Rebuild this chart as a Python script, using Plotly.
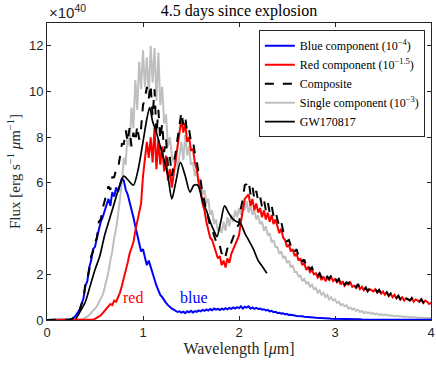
import plotly.graph_objects as go

# wavelength grid (micron) for the model spectra, 0 .. 4 in steps of 0.02
wavelength = [round(i * 0.02, 2) for i in range(201)]

blue_flux = [
    0, 0, 0, 0, 0, 0, 0, 0, 0, 0,
    0, 0.01, 0.02, 0.05, 0.1, 0.2, 0.3, 0.45, 0.7, 0.95,
    1.5, 1.7, 2.3, 2.6, 3.1, 3.2, 3.6, 4.0, 4.3, 4.5,
    4.8, 5.1, 5.3, 5.0, 5.6, 5.4, 5.8, 5.6, 5.9, 6.2,
    6.1, 5.7, 5.5, 5.2, 4.8, 4.5, 4.1, 3.7, 3.3, 3.0,
    3.1, 2.7, 2.4, 2.6, 2.3, 2.0, 1.7, 1.5, 1.3, 1.1,
    1.0, 0.85, 0.75, 0.65, 0.55, 0.5, 0.45, 0.4, 0.35, 0.38,
    0.32, 0.36, 0.3, 0.38, 0.34, 0.4, 0.33, 0.39, 0.36, 0.42,
    0.38, 0.44, 0.4, 0.46, 0.41, 0.48, 0.43, 0.5, 0.45, 0.49,
    0.44, 0.5, 0.46, 0.52, 0.47, 0.53, 0.49, 0.55, 0.5, 0.56,
    0.52, 0.6, 0.5, 0.58, 0.54, 0.6, 0.5, 0.55, 0.49, 0.53,
    0.48, 0.5, 0.45, 0.47, 0.42, 0.44, 0.38, 0.4, 0.34, 0.36,
    0.31, 0.32, 0.28, 0.29, 0.25, 0.26, 0.22, 0.23, 0.2, 0.2,
    0.18, 0.18, 0.16, 0.16, 0.14, 0.14, 0.13, 0.12, 0.11, 0.11,
    0.1, 0.1, 0.09, 0.09, 0.08, 0.08, 0.07, 0.07, 0.06, 0.06,
    0.06, 0.05, 0.05, 0.05, 0.04, 0.04, 0.04, 0.04, 0.03, 0.03,
    0.03, 0.03, 0.03, 0.03, 0.02, 0.02, 0.02, 0.02, 0.02, 0.02,
    0.02, 0.02, 0.02, 0.02, 0.02, 0.01, 0.01, 0.01, 0.01, 0.01,
    0.01, 0.01, 0.01, 0.01, 0.01, 0.01, 0.01, 0.01, 0.01, 0.01,
    0.01, 0.01, 0.01, 0.01, 0.01, 0.01, 0.01, 0.01, 0.01, 0.01,
    0.01,
]

red_flux = [
    0, 0, 0, 0, 0, 0, 0, 0, 0, 0,
    0, 0, 0, 0, 0, 0, 0, 0, 0, 0,
    0, 0, 0, 0, 0.02, 0.05, 0.1, 0.15, 0.2, 0.3,
    0.4, 0.5, 0.55, 0.7, 0.65, 0.85, 0.8, 1.0, 1.2, 1.5,
    1.8, 2.2, 2.5, 2.9, 3.2, 3.4, 3.9, 4.3, 4.7, 5.1,
    6.3, 7.0, 7.8, 7.1, 8.0, 6.9, 8.4, 6.6, 7.9, 6.8,
    7.6, 6.5, 7.2, 6.1, 6.6, 5.8, 6.4, 6.9, 7.6, 8.1,
    8.8, 8.2, 8.6, 7.8, 8.0, 7.4, 7.5, 6.9, 6.6, 6.0,
    5.7, 5.1, 4.8, 4.3, 4.0, 3.6, 3.5, 3.2, 3.0, 2.7,
    2.8, 2.4, 2.6, 2.3, 2.7, 2.5, 2.9, 3.1, 3.3, 3.5,
    3.7, 4.3, 4.8, 5.3, 5.4, 5.5, 5.0, 5.3, 4.8, 5.1,
    4.7, 4.9, 4.5, 4.8, 4.4, 4.7, 4.3, 4.6, 4.2, 4.4,
    4.1, 3.8, 4.0, 3.6, 3.5, 3.2, 3.3, 3.0, 3.1, 2.8,
    2.9, 2.6, 2.7, 2.4, 2.5, 2.2, 2.3, 2.1, 2.2, 2.0,
    2.05, 1.85, 1.95, 1.75, 1.9, 1.7, 1.85, 1.75, 1.9, 1.7,
    1.8, 1.65, 1.75, 1.55, 1.7, 1.5, 1.6, 1.55, 1.65, 1.45,
    1.5, 1.4, 1.55, 1.35, 1.45, 1.3, 1.4, 1.25, 1.35, 1.3,
    1.25, 1.35, 1.2, 1.3, 1.15, 1.25, 1.1, 1.2, 1.05, 1.15,
    1.0, 1.1, 0.95, 1.05, 0.9, 1.0, 0.85, 0.95, 0.9, 0.85,
    0.95, 0.8, 0.9, 0.85, 0.8, 0.9, 0.75, 0.85, 0.8, 0.7,
    0.75,
]

composite_flux = [
    0, 0, 0, 0, 0, 0, 0, 0, 0, 0,
    0, 0.01, 0.02, 0.05, 0.1, 0.2, 0.3, 0.45, 0.7, 0.95,
    1.6, 1.8, 2.2, 2.8, 3.0, 3.4, 3.6, 4.3, 4.4, 4.9,
    5.2, 5.6, 5.85, 5.7, 6.25, 6.25, 6.6, 6.6, 7.1, 7.7,
    7.7, 8.3, 7.8, 8.4, 7.6, 8.2, 7.8, 8.5, 7.9, 8.4,
    9.4, 9.7, 10.2, 9.7, 10.3, 8.9, 10.1, 8.1, 9.2, 7.9,
    8.6, 7.35, 7.95, 6.75, 7.15, 6.3, 6.85, 7.3, 7.95, 8.5,
    9.1, 8.55, 8.9, 8.2, 8.35, 7.8, 7.85, 7.3, 6.95, 6.4,
    6.1, 5.55, 5.2, 4.75, 4.4, 4.1, 3.95, 3.7, 3.45, 3.2,
    3.25, 2.9, 3.05, 2.8, 3.15, 3.05, 3.4, 3.65, 3.8, 4.06,
    4.2, 4.9, 5.3, 5.9, 5.95, 6.1, 5.5, 5.85, 5.3, 5.65,
    5.2, 5.4, 4.95, 5.25, 4.8, 5.15, 4.7, 5.0, 4.55, 4.75,
    4.4, 4.1, 4.3, 3.9, 3.75, 3.45, 3.5, 3.25, 3.3, 3.0,
    3.1, 2.8, 2.85, 2.55, 2.65, 2.35, 2.45, 2.2, 2.3, 2.1,
    2.15, 1.95, 2.05, 1.85, 2.0, 1.8, 1.9, 1.8, 1.95, 1.75,
    1.85, 1.7, 1.8, 1.6, 1.75, 1.55, 1.65, 1.6, 1.7, 1.5,
    1.53, 1.43, 1.58, 1.38, 1.47, 1.32, 1.42, 1.27, 1.37, 1.32,
    1.27, 1.37, 1.22, 1.32, 1.17, 1.26, 1.11, 1.21, 1.06, 1.16,
    1.01, 1.11, 0.96, 1.06, 0.91, 1.01, 0.86, 0.96, 0.91, 0.86,
    0.96, 0.81, 0.91, 0.86, 0.81, 0.91, 0.76, 0.86, 0.81, 0.71,
    0.76,
]

single_flux = [
    0, 0, 0, 0, 0, 0, 0, 0, 0, 0,
    0, 0, 0, 0, 0, 0, 0, 0.01, 0.03, 0.06,
    0.1, 0.15, 0.22, 0.3, 0.4, 0.5, 0.6, 0.75, 0.9, 1.1,
    1.4, 1.7, 2.1, 2.6, 3.0, 3.6, 4.0, 4.6, 5.2, 6.0,
    7.1, 6.8, 8.3, 7.6, 9.3, 8.4, 10.5, 9.2, 11.3, 10.1,
    11.8, 10.2, 11.5, 9.8, 12.0, 10.4, 11.9, 9.6, 11.7, 9.4,
    10.2, 8.6, 9.0, 7.6, 8.0, 7.2, 6.9, 7.4, 6.6, 7.3,
    7.8, 7.0, 8.1, 7.2, 7.6, 6.8, 6.9, 6.3, 6.6, 6.0,
    6.2, 5.5, 5.7, 5.1, 5.3, 4.6, 4.8, 4.2, 4.4, 3.9,
    4.1, 3.8, 4.3, 3.9, 4.5, 4.1, 4.6, 4.3, 4.8, 4.5,
    4.9, 4.6, 5.1, 4.8, 5.2, 4.7, 5.0, 4.6, 4.8, 4.4,
    4.6, 4.2, 4.3, 3.9, 4.1, 3.7, 3.8, 3.4, 3.5, 3.2,
    3.2, 2.9, 3.0, 2.7, 2.8, 2.5, 2.6, 2.3, 2.4, 2.1,
    2.1, 1.9, 1.95, 1.7, 1.8, 1.6, 1.65, 1.45, 1.55, 1.35,
    1.4, 1.2, 1.3, 1.1, 1.2, 1.0, 1.1, 0.9, 1.0, 0.85,
    0.9, 0.75, 0.8, 0.65, 0.7, 0.6, 0.65, 0.5, 0.55, 0.45,
    0.5, 0.4, 0.45, 0.35, 0.4, 0.3, 0.35, 0.3, 0.33, 0.27,
    0.3, 0.25, 0.28, 0.22, 0.26, 0.2, 0.24, 0.2, 0.22, 0.18,
    0.2, 0.16, 0.18, 0.15, 0.17, 0.14, 0.15, 0.13, 0.14, 0.12,
    0.13, 0.11, 0.12, 0.1, 0.11, 0.1, 0.1, 0.09, 0.1, 0.08,
    0.09,
]

# observed spectrum
gw_wavelength = [0.30, 0.35, 0.40, 0.45, 0.50, 0.55, 0.60, 0.65, 0.70, 0.75,
                 0.80, 0.85, 0.90, 0.95, 1.00, 1.04, 1.07, 1.10, 1.14, 1.18,
                 1.22, 1.26, 1.30, 1.34, 1.39, 1.44, 1.49, 1.53, 1.57, 1.62,
                 1.66, 1.70, 1.74, 1.77, 1.81, 1.85, 1.89, 1.94, 1.98, 2.02,
                 2.06, 2.10, 2.15, 2.20, 2.25, 2.29]
gw_flux = [0.05, 0.4, 0.8, 1.5, 2.2, 2.8, 3.7, 4.4, 5.1, 5.8,
           6.3, 6.1, 5.9, 6.6, 7.8, 8.8, 9.3, 8.7, 8.2, 7.6,
           7.0, 6.3, 5.3, 6.0, 6.9, 6.3, 5.6, 5.9, 5.9, 5.2,
           4.8, 4.3, 3.9, 3.65, 4.3, 5.0, 4.7, 4.4, 4.3, 4.2,
           3.8, 3.5, 3.1, 2.6, 2.3, 2.05]

serif = "Liberation Serif, DejaVu Serif, serif"
sans = "Liberation Sans, Arial, sans-serif"
axis_color = "#262626"

fig = go.Figure()

fig.add_trace(go.Scatter(x=wavelength, y=single_flux, mode='lines', legendrank=4,
                         name='Single component (10<sup>−3</sup>)',
                         line=dict(color='#BFBFBF', width=2)))
fig.add_trace(go.Scatter(x=wavelength, y=blue_flux, mode='lines', legendrank=1,
                         name='Blue component (10<sup>−4</sup>)',
                         line=dict(color='#0000FF', width=2)))
fig.add_trace(go.Scatter(x=wavelength, y=red_flux, mode='lines', legendrank=2,
                         name='Red component (10<sup>−1.5</sup>)',
                         line=dict(color='#FF0000', width=2)))
fig.add_trace(go.Scatter(x=wavelength, y=composite_flux, mode='lines', legendrank=3,
                         name='Composite',
                         line=dict(color='black', width=2, dash='dash')))
fig.add_trace(go.Scatter(x=gw_wavelength, y=gw_flux, mode='lines', legendrank=5,
                         name='GW170817',
                         line=dict(color='black', width=1.7, shape='spline', smoothing=0.8)))

fig.add_annotation(x=0.9, y=1.0, text='red', showarrow=False,
                   font=dict(family=serif, size=16, color='#FF0000'))
fig.add_annotation(x=1.53, y=1.0, text='blue', showarrow=False,
                   font=dict(family=serif, size=16, color='#0000FF'))
fig.add_annotation(xref='paper', yref='paper', x=0, y=1.0, xanchor='left', yanchor='bottom',
                   text='×10<sup>40</sup>', showarrow=False,
                   font=dict(family=sans, size=15, color=axis_color))

fig.update_layout(
    width=436,
    height=365,
    margin=dict(l=47, r=5, t=23, b=45),
    plot_bgcolor='white',
    paper_bgcolor='white',
    title=dict(text='4.5 days since explosion', x=0.5, xref='paper', xanchor='center',
               y=0.972, yanchor='middle', yref='container',
               font=dict(family=serif, size=16, color='black')),
    legend=dict(x=0.984, y=0.976, xanchor='right', yanchor='top',
                bgcolor='white', bordercolor=axis_color, borderwidth=1,
                font=dict(family=serif, size=12, color='black')),
    showlegend=True,
)

fig.update_xaxes(range=[0, 4], dtick=1, ticks='inside', ticklen=4, tickcolor=axis_color,
                 showline=True, linecolor=axis_color, linewidth=1, mirror='ticks',
                 showgrid=False, zeroline=False, automargin=False,
                 ticklabeloverflow='allow',
                 tickfont=dict(family=sans, size=13, color=axis_color),
                 title=dict(text='Wavelength [<i>μ</i>m]', standoff=2,
                            font=dict(family=serif, size=16, color=axis_color)))
fig.update_yaxes(range=[0, 13], tickvals=[0, 2, 4, 6, 8, 10, 12], ticks='inside', ticklen=4,
                 tickcolor=axis_color, showline=True, linecolor=axis_color, linewidth=1,
                 mirror='ticks', showgrid=False, zeroline=False, automargin=False,
                 tickfont=dict(family=sans, size=13, color=axis_color),
                 title=dict(text='Flux [erg s<sup>−1</sup> <i>μ</i>m<sup>−1</sup>]', standoff=4,
                            font=dict(family=serif, size=15, color=axis_color)))

# the page body has a default 8px margin, drop it so the figure fills the window
fig.write_html("out.html", config={'displayModeBar': False},
               post_script="document.body.style.margin = '0';")
